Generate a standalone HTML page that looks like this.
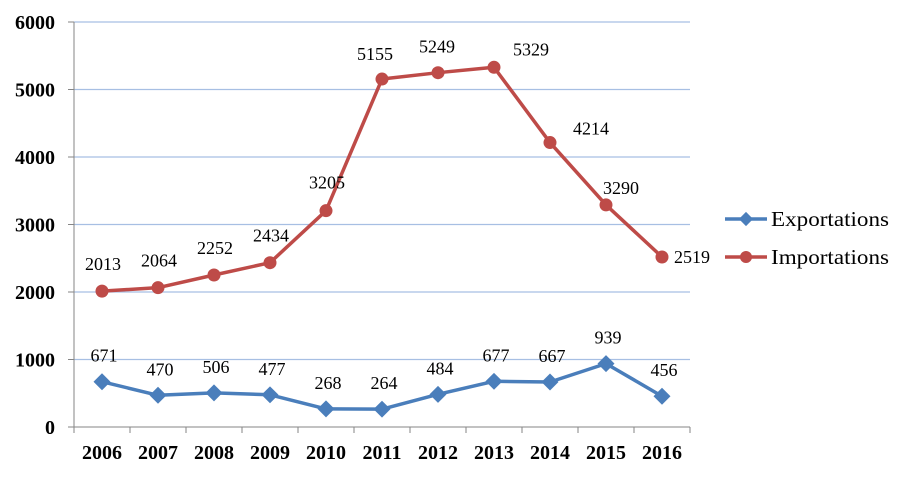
<!DOCTYPE html>
<html><head><meta charset="utf-8"><style>
body{margin:0;background:#fff;}
svg text{font-family:"Liberation Serif",serif;}
</style></head><body>
<svg id="chart" width="912" height="479" xmlns="http://www.w3.org/2000/svg">
<g id="grid"></g><g id="axes"></g><g id="series"></g><g id="legend"></g>
</svg>
<script>
const categories=["2006","2007","2008","2009","2010","2011","2012","2013","2014","2015","2016"];
const exportations=[671,470,506,477,268,264,484,677,667,939,456];
const importations=[2013,2064,2252,2434,3205,5155,5249,5329,4214,3290,2519];
const yTicks=[0,1000,2000,3000,4000,5000,6000];
const NS="http://www.w3.org/2000/svg";
const L=74,STEP=56,Y0=427,PER=405/6000;
const x=i=>L+STEP*(i+0.5);
const y=v=>Y0-v*PER;
// label offsets (layout only)
const impDx=[0,0,0,0,0,-8,-2,36,40,14,12];
const impDy=[-21,-21,-21,-21,-22,-19,-20,-12,-8,-11,6];
function mk(tag,attrs,parent,txt){const e=document.createElementNS(NS,tag);for(const k in attrs)e.setAttribute(k,attrs[k]);if(txt!==undefined)e.textContent=txt;parent.appendChild(e);return e;}
const grid=document.getElementById('grid'),axes=document.getElementById('axes'),ser=document.getElementById('series'),leg=document.getElementById('legend');
yTicks.forEach(t=>{
 if(t>0){const g=mk('line',{x1:L,x2:L+STEP*11,y1:y(t),y2:y(t),stroke:'#a7bfe3','stroke-width':1.2},grid);
 }
 const tk=mk('line',{x1:L-6,x2:L,y1:y(t),y2:y(t),stroke:'#868686'},axes);
 
 const lb=mk('text',{x:L-19,y:y(t)+7,'text-anchor':'end','font-size':20,'font-weight':'bold'},axes,t);
 
});
const ya=mk('line',{x1:L,x2:L,y1:y(6000),y2:Y0,stroke:'#868686'},axes);

const xa=mk('line',{x1:L,x2:L+STEP*11,y1:Y0,y2:Y0,stroke:'#868686'},axes);

for(let i=0;i<=11;i++){const tk=mk('line',{x1:L+STEP*i,x2:L+STEP*i,y1:Y0,y2:Y0+6,stroke:'#868686'},axes);
 }
categories.forEach((c,i)=>{const lb=mk('text',{x:x(i),y:459,'text-anchor':'middle','font-size':20,'font-weight':'bold'},axes,c);
 });
function line(data,color,name){
 const p=mk('polyline',{points:data.map((v,i)=>x(i)+','+y(v)).join(' '),fill:'none',stroke:color,'stroke-width':3.5,'stroke-linejoin':'round'},ser);
 
}
line(exportations,'#4a7ebb','exportations');
line(importations,'#be4b48','importations');
exportations.forEach((v,i)=>{
 const m=mk('rect',{x:x(i)-6,y:y(v)-6,width:12,height:12,fill:'#4a7ebb',transform:`rotate(45 ${x(i)} ${y(v)})`},ser);
 
 const t=mk('text',{x:x(i)+2,y:y(v)-20,'text-anchor':'middle','font-size':18},ser,v);
 
});
importations.forEach((v,i)=>{
 const m=mk('circle',{cx:x(i),cy:y(v),r:6.5,fill:'#be4b48'},ser);
 
 const last=i===importations.length-1;
 const t=mk('text',{x:x(i)+impDx[i]+(last?0:1),y:y(v)+impDy[i],'text-anchor':last?'start':'middle','font-size':18},ser,v);
 
});
[['Exportations','#4a7ebb',219,'d'],['Importations','#be4b48',257,'c']].forEach(([n,c,yy,k])=>{
 const g=mk('g',{},leg);
 
 mk('line',{x1:725,x2:767,y1:yy,y2:yy,stroke:c,'stroke-width':3.5},g);
 if(k==='d')mk('rect',{x:741,y:yy-5,width:10,height:10,fill:c,transform:`rotate(45 746 ${yy})`},g);
 else mk('circle',{cx:746,cy:yy,r:6,fill:c},g);
 mk('text',{x:771,y:yy+7,'font-size':21,textLength:118,lengthAdjust:'spacingAndGlyphs'},g,n);
});
</script>
</body></html>
